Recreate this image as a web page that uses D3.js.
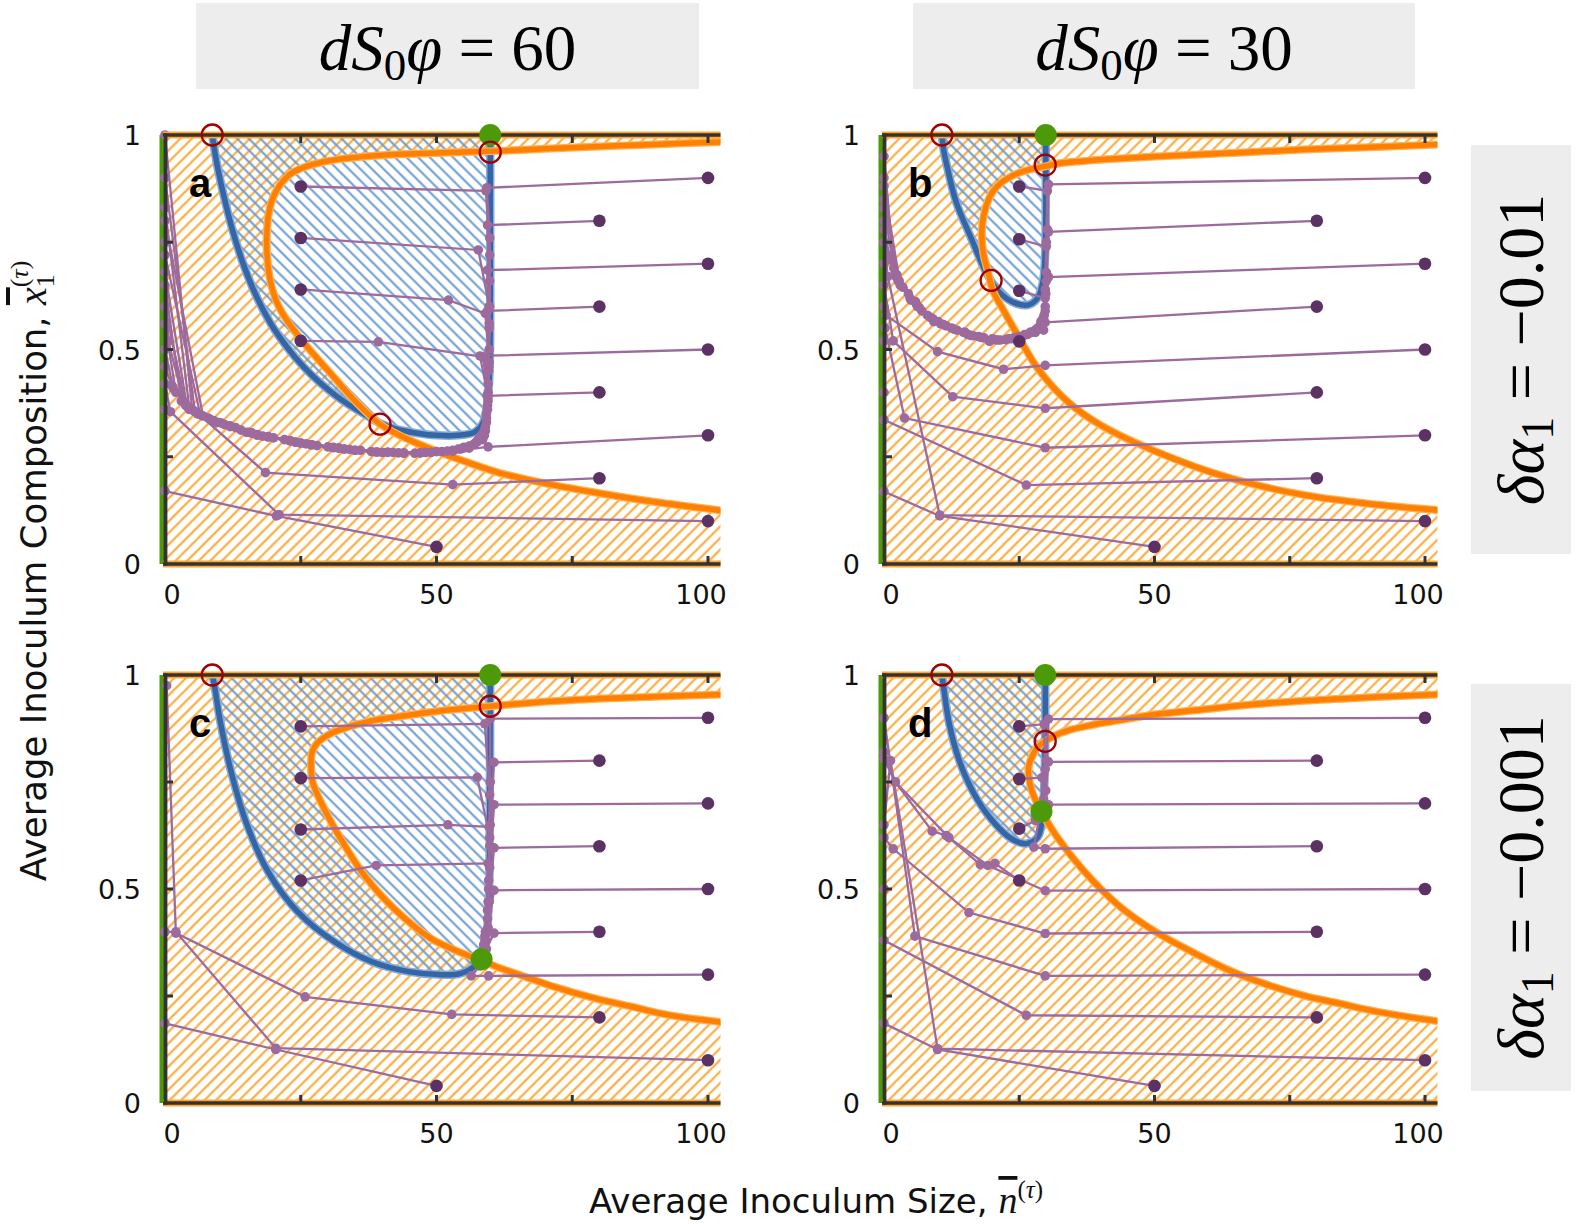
<!DOCTYPE html>
<html>
<head>
<meta charset="utf-8">
<script src="https://cdn.jsdelivr.net/npm/d3@7"></script>
<style>
body { margin: 0; background: #fff; }
svg { display: block; }
</style>
</head>
<body>
<svg id="fig" width="1594" height="1224"></svg>
<script>
// ---- data: n = inoculum size, v = composition ----
var nMax = 102.3;
var xTickVals = [0, 50, 100];
var yTickVals = [0, 0.5, 1];
var xMinorTicks = [25, 50, 75, 100];
var yMinorTicks = [0.25, 0.5, 0.75];

var colTitles = ["60", "30"];
var rowTitles = ["\u22120.01", "\u22120.001"];

// blue boundary (edge of blue hatched region)
var blueA = [[8.7,1],[9.6,0.93],[10.8,0.86],[12.4,0.78],[14.4,0.7],[16.8,0.625],[19.5,0.56],[22.5,0.505],[25.5,0.46],[28.5,0.423],[31.5,0.392],[34.5,0.366],[37,0.347],[39.6,0.328],[43,0.313],[46.4,0.305],[50,0.3],[54,0.3],[57.1,0.308],[58.6,0.33],[59.3,0.37],[59.7,0.43],[59.9,0.55],[59.9,0.75],[59.9,1]];
var blueB = [[10.7,1],[11.1,0.96],[11.6,0.93],[13.3,0.845],[16.1,0.76],[18.8,0.682],[21.2,0.635],[24.3,0.608],[26.7,0.604],[28.4,0.62],[29.4,0.659],[29.8,0.729],[29.9,0.85],[29.9,1]];
var blueC = [[8.7,1],[9,0.983],[10.2,0.89],[12.2,0.773],[14.9,0.657],[19,0.54],[24.5,0.446],[31.3,0.376],[38.1,0.33],[44.9,0.307],[50.4,0.3],[54.5,0.303],[57.2,0.322],[58.9,0.369],[59.6,0.462],[59.8,0.657],[59.9,1]];
var blueD = [[10.7,1],[10.9,0.983],[12,0.89],[14,0.797],[16.8,0.719],[20.2,0.657],[23.6,0.617],[26.3,0.606],[28.4,0.621],[29.2,0.657],[29.6,0.735],[29.8,0.85],[29.8,1]];

// orange boundary (edge of orange hatched region)
var orangeA = [[103,0.984],[90,0.978],[80,0.973],[70,0.968],[61.7,0.963],[50,0.958],[40,0.953],[33,0.945],[28,0.934],[25,0.922],[23,0.908],[20.6,0.872],[19.3,0.83],[18.8,0.78],[18.8,0.72],[19.4,0.66],[20.6,0.61],[22.6,0.565],[25.3,0.52],[28,0.48],[31,0.437],[35,0.38],[39.6,0.326],[44,0.295],[49.4,0.266],[55,0.24],[61.7,0.212],[70,0.188],[80,0.165],[90,0.145],[103,0.124]];
var orangeB = [[103,0.978],[91,0.972],[77.6,0.966],[64,0.958],[50.3,0.95],[42,0.944],[36.6,0.939],[32.5,0.934],[29.8,0.927],[27,0.92],[25,0.912],[23,0.9],[21.6,0.888],[20.2,0.87],[19.2,0.846],[18.4,0.81],[18.1,0.78],[18.3,0.729],[19.2,0.682],[20.2,0.635],[22.2,0.589],[25,0.527],[28.4,0.456],[33.9,0.379],[40,0.324],[50.3,0.262],[64,0.2],[77.6,0.161],[91.3,0.138],[103,0.125]];
var orangeC = [[103,0.955],[90,0.949],[79,0.944],[68,0.936],[59.9,0.927],[52,0.918],[44.9,0.906],[38.5,0.894],[34.7,0.882],[31.8,0.87],[29.9,0.859],[27.9,0.839],[27.1,0.82],[26.9,0.8],[27.2,0.75],[29.3,0.688],[32.7,0.61],[36.7,0.532],[42.2,0.454],[49,0.384],[52,0.365],[55.1,0.348],[58.3,0.333],[61.5,0.316],[65.4,0.299],[72,0.27],[79,0.245],[86,0.225],[92.6,0.206],[103,0.188]];
var orangeD = [[103,0.955],[90,0.948],[77.6,0.94],[67,0.93],[57.1,0.917],[49,0.906],[43.4,0.894],[38,0.882],[33.9,0.87],[31.5,0.858],[29.8,0.845],[28.3,0.83],[27.4,0.81],[26.8,0.79],[26.7,0.773],[27,0.745],[27.6,0.72],[29.1,0.681],[31.8,0.625],[36.6,0.547],[43.4,0.461],[50.3,0.399],[57.1,0.352],[64,0.309],[70,0.28],[77.6,0.251],[84,0.233],[91.3,0.213],[103,0.19]];

// unstable (open red) and stable (green) points
var redA = [[8.7,1],[59.9,0.96],[39.6,0.326]];
var redB = [[10.7,1],[29.8,0.93],[19.8,0.661]];
var redC = [[8.7,1],[59.9,0.927]];
var redD = [[10.7,1],[29.8,0.845]];
var greenA = [[59.9,1]];
var greenB = [[29.9,1]];
var greenC = [[59.9,1],[58.3,0.336]];
var greenD = [[29.8,1],[29.1,0.681]];

// trajectories: first point is the starting inoculum
var trajA = [
 [[100,0.9],[59.3,0.877],[59.8,0.76],[59.8,0.6],[59.6,0.45],[59.2,0.34],[57,0.28],[50,0.262],[42,0.26],[34,0.267],[26,0.28],[18,0.298],[11,0.325],[5.5,0.355],[0,0.9]],
 [[80,0.8],[59.4,0.79],[59.8,0.66],[59.7,0.5],[59.4,0.37],[58.5,0.29],[53,0.265],[46,0.258],[38,0.262],[30,0.273],[22,0.29],[14,0.312],[8,0.34],[4,0.37],[0,0.68]],
 [[100,0.7],[59.4,0.685],[59.7,0.55],[59.5,0.4],[58.8,0.3],[55,0.27],[48,0.26],[40,0.26],[32,0.27],[24,0.284],[16,0.305],[9,0.333],[4.5,0.362],[0,0.83]],
 [[80,0.6],[59.4,0.59],[59.6,0.46],[59.2,0.33],[56,0.275],[49,0.26],[41,0.26],[33,0.268],[25,0.282],[17,0.302],[10,0.33],[5,0.36],[0,1]],
 [[100,0.5],[58,0.485],[59.5,0.39],[58.3,0.295],[54,0.268],[47,0.259],[39,0.261],[31,0.272],[23,0.287],[15,0.307],[8.5,0.336],[3.8,0.37],[0,0.6]],
 [[80,0.4],[59.3,0.392],[59,0.31],[55,0.272],[48,0.26],[40,0.26],[32,0.27],[24,0.284],[16,0.305],[9.5,0.33],[4.5,0.36],[1.5,0.41],[0,0.5]],
 [[100,0.3],[59.5,0.273],[53,0.263],[44,0.258],[35,0.265],[27,0.278],[19,0.297],[12,0.322],[6,0.35],[3,0.38],[0,0.65]],
 [[80,0.2],[53,0.185],[18.5,0.213],[3.4,0.38],[0.6,0.52],[0,0.75]],
 [[100,0.1],[21,0.115],[1,0.355],[0,0.42]],
 [[50,0.04],[20.5,0.112],[0,0.17],[0,0.36]],
 [[25,0.88],[59.1,0.87],[59.8,0.72],[59.7,0.56],[59.5,0.42],[59,0.32],[56,0.27],[49,0.26],[41,0.261],[33,0.268],[25,0.282],[17,0.3],[10.5,0.328],[5.5,0.356],[2,0.4],[0,0.56]],
 [[25,0.76],[57.7,0.732],[59.7,0.6],[59.6,0.46],[59.2,0.35],[57.5,0.285],[51,0.262],[43,0.259],[35,0.265],[27,0.278],[19,0.296],[12,0.32],[6.5,0.348],[0,0.72]],
 [[25,0.64],[52.2,0.615],[59,0.584],[59.7,0.47],[59.4,0.36],[58,0.29],[52,0.263],[44,0.259],[36,0.265],[28,0.276],[20,0.294],[13,0.318],[7,0.345],[0,0.8]],
 [[25,0.52],[39.3,0.518],[58.6,0.483],[59.5,0.38],[58.8,0.3],[54.5,0.268],[47,0.259],[39,0.261],[31,0.271],[23,0.288],[15.5,0.307],[9,0.334],[4.2,0.366],[1.3,0.415],[0,0.46]]
];
var trajB = [
 [[100,0.9],[30.4,0.885],[30.2,0.78],[30,0.68],[29.8,0.6],[28.5,0.55],[25,0.53],[20,0.525],[15,0.54],[10,0.565],[6,0.605],[2.8,0.66],[0,0.85]],
 [[80,0.8],[30.4,0.774],[30,0.66],[29.6,0.58],[27,0.54],[22.5,0.523],[17.5,0.53],[12.5,0.55],[8,0.58],[4.5,0.63],[1.8,0.69],[0,0.95]],
 [[100,0.7],[30.4,0.669],[29.8,0.59],[28,0.545],[23.5,0.525],[18.5,0.527],[13.5,0.545],[9,0.572],[5,0.615],[2.2,0.67],[0,0.9]],
 [[80,0.6],[29.8,0.563],[26.5,0.535],[21.5,0.522],[16.5,0.532],[11.5,0.555],[7,0.59],[3.5,0.645],[1,0.71],[0,0.8]],
 [[100,0.5],[29.8,0.463],[22.1,0.454],[9.9,0.495],[0.4,0.58],[0,0.7]],
 [[80,0.4],[29.8,0.363],[12.7,0.39],[1.7,0.52],[0,0.65]],
 [[100,0.3],[29.8,0.271],[3.8,0.34],[0.2,0.55],[0,0.6]],
 [[80,0.2],[26.3,0.184],[0,0.336],[0,0.52]],
 [[100,0.1],[10.3,0.114],[0.7,0.67],[0,0.75]],
 [[50,0.04],[10.3,0.112],[0,0.169],[0,0.4]],
 [[25,0.88],[30.2,0.87],[30,0.75],[29.8,0.64],[29.3,0.57],[26,0.535],[21,0.522],[16,0.533],[11,0.558],[6.5,0.598],[3,0.65],[0,0.88]],
 [[25,0.757],[30,0.74],[29.9,0.63],[29,0.565],[25.5,0.53],[20.5,0.523],[15.5,0.535],[10.5,0.56],[6.2,0.6],[2.6,0.66],[0.7,0.72],[0,0.78]],
 [[25,0.637],[29.8,0.62],[29.5,0.575],[27.2,0.54],[23,0.525],[18,0.528],[13,0.547],[8.5,0.575],[4.8,0.62],[2,0.675],[0,0.83]],
 [[25,0.519],[29.5,0.545],[28,0.54],[24,0.527],[19.5,0.519],[14.7,0.54],[9.2,0.565],[5.8,0.612],[2.4,0.674],[0.7,0.713],[0,0.75]]
];
var trajC = [
 [[100,0.9],[59.9,0.898],[59.9,0.75],[59.8,0.6],[59.6,0.47],[59,0.38],[58.5,0.345]],
 [[80,0.8],[60.6,0.796],[59.9,0.65],[59.7,0.5],[59.2,0.4],[58.5,0.35]],
 [[100,0.7],[60.6,0.697],[59.8,0.55],[59.4,0.43],[58.7,0.36]],
 [[80,0.6],[60.6,0.596],[59.7,0.47],[59,0.38],[58.4,0.345]],
 [[100,0.5],[60.6,0.497],[59.5,0.41],[58.6,0.355]],
 [[80,0.4],[60.6,0.397],[59.2,0.36]],
 [[100,0.3],[59.6,0.297],[56.4,0.297],[58,0.32]],
 [[80,0.2],[52.8,0.207],[25.8,0.248],[2,0.397],[0.3,0.975]],
 [[100,0.1],[20.4,0.128],[2,0.4],[0,0.4]],
 [[50,0.04],[20.4,0.125],[0,0.186]],
 [[25,0.88],[58.9,0.886],[59.8,0.72],[59.6,0.52],[59,0.4],[58.4,0.35]],
 [[25,0.759],[57.5,0.761],[59.8,0.62],[59.5,0.47],[58.8,0.37]],
 [[25,0.639],[52.1,0.65],[59.7,0.645],[59.6,0.5],[58.9,0.39]],
 [[25,0.52],[38.9,0.555],[59.5,0.56],[59.4,0.45],[58.7,0.37]]
];
var trajD = [
 [[100,0.9],[30.4,0.897],[30,0.8],[29.8,0.73],[29.3,0.69]],
 [[80,0.8],[30.4,0.797],[29.9,0.73],[29.4,0.695]],
 [[100,0.7],[30.4,0.697],[29.4,0.685]],
 [[80,0.6],[29.8,0.594],[27.7,0.598],[28.7,0.665]],
 [[100,0.5],[29.8,0.496],[19.2,0.555],[12,0.62],[2.1,0.75],[0,0.804]],
 [[80,0.4],[29.8,0.396],[15.7,0.445],[1.7,0.594],[0,0.62]],
 [[100,0.3],[29.8,0.297],[5.7,0.39],[0,0.9]],
 [[80,0.2],[26.3,0.205],[0,0.38],[0,0.5]],
 [[100,0.1],[9.9,0.127],[1.2,0.8],[0,0.65]],
 [[50,0.04],[9.9,0.125],[0,0.186]],
 [[25,0.88],[29.6,0.885],[29.8,0.78],[29.4,0.7]],
 [[25,0.757],[29.2,0.76],[29.5,0.71]],
 [[25,0.641],[28,0.66],[28.9,0.675]],
 [[25,0.52],[20.5,0.56],[17.8,0.557],[11.5,0.625],[8.9,0.635],[2.1,0.75],[0,0.82]]
];

// ---- styling ----
var ORANGE_HATCH = "#FFA530";
var BLUE_HATCH = "#6A9AD2";
var ORANGE_LINE = "#FF7F00";
var BLUE_LINE = "#3465A4";
var TRAJ_COL = "#9D6A9E";
var START_COL = "#5C3163";
var GREEN = "#4C9A0A";
var RED = "#A00000";
var FRAME_COL = "#333333";
var SANS = "DejaVu Sans, sans-serif";
var SERIF = "Liberation Serif, serif";

var svg = d3.select("#fig");
var defs = svg.append("defs");

function add_hatch(id, col, ang, lw) {
    var sp = 8.2;
    var p = defs.append("pattern")
        .attr("id", id)
        .attr("patternUnits", "userSpaceOnUse")
        .attr("width", sp)
        .attr("height", sp)
        .attr("patternTransform", "rotate(" + ang + ")");
    p.append("rect")
        .attr("x", sp/2 - lw/2)
        .attr("y", 0)
        .attr("width", lw)
        .attr("height", sp)
        .attr("fill", col);
}
add_hatch("hatchO", ORANGE_HATCH, 45, 2.0);
add_hatch("hatchB", BLUE_HATCH, -45, 2.0);

var panels = [
    {tag: "a", x0: 165, k: 5.43, top: 135, bot: 564, blue: blueA, orange: orangeA, traj: trajA, red: redA, green: greenA},
    {tag: "b", x0: 884, k: 5.41, top: 135, bot: 564, blue: blueB, orange: orangeB, traj: trajB, red: redB, green: greenB},
    {tag: "c", x0: 165, k: 5.43, top: 675, bot: 1103, blue: blueC, orange: orangeC, traj: trajC, red: redC, green: greenC},
    {tag: "d", x0: 884, k: 5.41, top: 675, bot: 1103, blue: blueD, orange: orangeD, traj: trajD, red: redD, green: greenD}
];

function draw_panel(p) {
    var xs = d3.scaleLinear().domain([0, nMax]).range([p.x0, p.x0 + nMax * p.k]);
    var ys = d3.scaleLinear().domain([0, 1]).range([p.bot, p.top]);
    // labels sit a little inside the tick positions in the original
    var xl = d3.scaleLinear().domain([0, 100]).range([xs(0) + 7, xs(100) - 7]);

    var g = svg.append("g");
    var clipId = "clip-" + p.tag;
    defs.append("clipPath").attr("id", clipId)
        .append("rect")
        .attr("x", xs(0)).attr("y", ys(1))
        .attr("width", xs(nMax) - xs(0)).attr("height", ys(0) - ys(1));

    var inner = g.append("g").attr("clip-path", "url(#" + clipId + ")");

    var smooth = d3.line()
        .x(function(d) { return xs(d[0]); })
        .y(function(d) { return ys(d[1]); })
        .curve(d3.curveCatmullRom.alpha(0.5));
    var straight = d3.line()
        .x(function(d) { return xs(d[0]); })
        .y(function(d) { return ys(d[1]); });

    // orange region = box minus the inside of the orange curve
    var box = "M" + xs(0) + "," + ys(0) + "H" + xs(nMax + 1) + "V" + ys(1) + "H" + xs(0) + "Z";
    inner.append("path")
        .attr("d", box + smooth(p.orange) + "Z")
        .attr("fill-rule", "evenodd")
        .attr("fill", "url(#hatchO)");

    // blue region, closed along the top
    inner.append("path")
        .attr("d", smooth(p.blue) + "Z")
        .attr("fill", "url(#hatchB)");

    // green line on n = 0
    g.append("line")
        .attr("x1", xs(0) - 3).attr("x2", xs(0) - 3)
        .attr("y1", ys(0)).attr("y2", ys(1))
        .style("stroke", GREEN).style("stroke-width", 5);

    // curves
    inner.append("path").attr("d", smooth(p.blue))
        .attr("fill", "none").style("stroke", "#86ABDA").style("stroke-width", 8.5);
    inner.append("path").attr("d", smooth(p.blue))
        .attr("fill", "none").style("stroke", BLUE_LINE).style("stroke-width", 5.5);
    inner.append("path").attr("d", smooth(p.orange))
        .attr("fill", "none").style("stroke", "#FFB255").style("stroke-width", 8);
    inner.append("path").attr("d", smooth(p.orange))
        .attr("fill", "none").style("stroke", ORANGE_LINE).style("stroke-width", 5.5);

    // trajectories
    var tg = g.append("g");
    tg.selectAll(".trj")
        .data(p.traj)
        .enter()
        .append("path")
        .attr("class", "trj")
        .attr("d", function(d) { return straight(d); })
        .attr("fill", "none")
        .style("stroke", TRAJ_COL)
        .style("stroke-width", 2.3);

    var steps = [];
    p.traj.forEach(function(t) {
        t.slice(1).forEach(function(pt) { steps.push(pt); });
    });
    tg.selectAll(".stp")
        .data(steps)
        .enter()
        .append("circle")
        .attr("class", "stp")
        .attr("cx", function(d) { return xs(d[0]); })
        .attr("cy", function(d) { return ys(d[1]); })
        .attr("r", 4.8)
        .style("fill", TRAJ_COL);
    tg.selectAll(".st0")
        .data(p.traj)
        .enter()
        .append("circle")
        .attr("class", "st0")
        .attr("cx", function(d) { return xs(d[0][0]); })
        .attr("cy", function(d) { return ys(d[0][1]); })
        .attr("r", 6.3)
        .style("fill", START_COL);

    // frame (top, bottom, left)
    [1, 0].forEach(function(v) {
        g.append("line")
            .attr("x1", xs(0) - 2).attr("x2", xs(nMax))
            .attr("y1", ys(v)).attr("y2", ys(v))
            .style("stroke", ORANGE_HATCH).style("stroke-width", 7);
        g.append("line")
            .attr("x1", xs(0) - 2).attr("x2", xs(nMax))
            .attr("y1", ys(v)).attr("y2", ys(v))
            .style("stroke", FRAME_COL).style("stroke-width", 3.6);
    });
    g.append("line")
        .attr("x1", xs(0) + 0.5).attr("x2", xs(0) + 0.5)
        .attr("y1", ys(0) + 1.8).attr("y2", ys(1) - 1.8)
        .style("stroke", FRAME_COL).style("stroke-width", 3.8);

    // small inner ticks
    g.selectAll(".xtb").data(xMinorTicks).enter().append("line")
        .attr("x1", d => xs(d)).attr("x2", d => xs(d))
        .attr("y1", ys(0)).attr("y2", ys(0) - 8)
        .style("stroke", FRAME_COL).style("stroke-width", 3);
    g.selectAll(".xtt").data(xMinorTicks).enter().append("line")
        .attr("x1", d => xs(d)).attr("x2", d => xs(d))
        .attr("y1", ys(1)).attr("y2", ys(1) + 8)
        .style("stroke", FRAME_COL).style("stroke-width", 3);
    g.selectAll(".ytl").data(yMinorTicks).enter().append("line")
        .attr("x1", xs(0)).attr("x2", xs(0) + 8)
        .attr("y1", d => ys(d)).attr("y2", d => ys(d))
        .style("stroke", FRAME_COL).style("stroke-width", 3);

    // tick labels
    g.selectAll(".xlab").data(xTickVals).enter().append("text")
        .attr("x", d => xl(d))
        .attr("y", ys(0) + 40)
        .attr("text-anchor", "middle")
        .style("font-family", SANS)
        .style("font-size", "27px")
        .style("fill", "#111")
        .text(d => d);
    g.selectAll(".ylab").data(yTickVals).enter().append("text")
        .attr("x", xs(0) - 24)
        .attr("y", d => ys(d) + 10)
        .attr("text-anchor", "end")
        .style("font-family", SANS)
        .style("font-size", "27px")
        .style("fill", "#111")
        .text(d => d);

    // equilibria markers
    g.selectAll(".grn").data(p.green).enter().append("circle")
        .attr("cx", d => xs(d[0])).attr("cy", d => ys(d[1]))
        .attr("r", 11)
        .style("fill", GREEN);
    g.selectAll(".red").data(p.red).enter().append("circle")
        .attr("cx", d => xs(d[0])).attr("cy", d => ys(d[1]))
        .attr("r", 10.5)
        .style("fill", "none")
        .style("stroke", RED)
        .style("stroke-width", 2.3);

    // panel letter
    g.append("text")
        .attr("x", xs(0) + 24)
        .attr("y", ys(1) + 62)
        .style("font-family", "Liberation Sans, Arial, sans-serif")
        .style("font-weight", "bold")
        .style("font-size", "40px")
        .text(p.tag);
}

panels.forEach(draw_panel);

// ---- column headers ----
var headers = [{x: 196, w: 503, val: colTitles[0]}, {x: 913, w: 502, val: colTitles[1]}];
headers.forEach(function(h) {
    svg.append("rect")
        .attr("x", h.x).attr("y", 3).attr("width", h.w).attr("height", 86)
        .style("fill", "#EDEDED");
    var t = svg.append("text")
        .attr("x", h.x + h.w / 2)
        .attr("y", 70)
        .attr("text-anchor", "middle")
        .style("font-family", SERIF)
        .style("font-size", "65px");
    t.append("tspan").style("font-style", "italic").text("dS");
    t.append("tspan").attr("dy", 10).style("font-size", "45px").text("0");
    t.append("tspan").attr("dy", -10).style("font-style", "italic").text("\u03C6");
    t.append("tspan").text(" = " + h.val);
});

// ---- row labels ----
var rows = [{y: 145, h: 409, val: rowTitles[0]}, {y: 684, h: 407, val: rowTitles[1]}];
rows.forEach(function(r) {
    svg.append("rect")
        .attr("x", 1471).attr("y", r.y).attr("width", 100).attr("height", r.h)
        .style("fill", "#EDEDED");
    var cx = 1521, cy = r.y + r.h / 2;
    var t = svg.append("text")
        .attr("transform", "translate(" + (cx + 22) + "," + cy + ") rotate(-90)")
        .attr("text-anchor", "middle")
        .style("font-family", SERIF)
        .style("font-size", "66px");
    t.append("tspan").style("font-style", "italic").text("\u03B4\u03B1");
    t.append("tspan").attr("dy", 10).style("font-size", "46px").text("1");
    t.append("tspan").attr("dy", -10).text(" = " + r.val);
});

// ---- axis titles ----
var xt = svg.append("text")
    .attr("x", 816)
    .attr("y", 1213)
    .attr("text-anchor", "middle")
    .style("font-family", SANS)
    .style("font-size", "34px")
    .style("fill", "#111");
xt.append("tspan").text("Average Inoculum Size, ");
xt.append("tspan").style("font-family", SERIF).style("font-style", "italic")
    .style("font-size", "38px").style("text-decoration", "overline").text("n");
xt.append("tspan").attr("dy", -15).style("font-family", SERIF).style("font-size", "25px").text("(");
xt.append("tspan").style("font-family", SERIF).style("font-style", "italic").style("font-size", "25px").text("\u03C4");
xt.append("tspan").style("font-family", SERIF).style("font-size", "25px").text(")");

var yt = svg.append("text")
    .attr("transform", "translate(46,571) rotate(-90)")
    .attr("text-anchor", "middle")
    .style("font-family", SANS)
    .style("font-size", "35.5px")
    .style("fill", "#111");
yt.append("tspan").text("Average Inoculum Composition, ");
yt.append("tspan").style("font-family", SERIF).style("font-style", "italic")
    .style("font-size", "40px").style("text-decoration", "overline").text("x");
yt.append("tspan").attr("dy", 8).style("font-family", SERIF).style("font-size", "26px").text("1");
yt.append("tspan").attr("dx", -13).attr("dy", -26).style("font-family", SERIF).style("font-size", "26px").text("(");
yt.append("tspan").style("font-family", SERIF).style("font-style", "italic").style("font-size", "26px").text("\u03C4");
yt.append("tspan").style("font-family", SERIF).style("font-style", "normal").style("font-size", "26px").text(")");
</script>
</body>
</html>
